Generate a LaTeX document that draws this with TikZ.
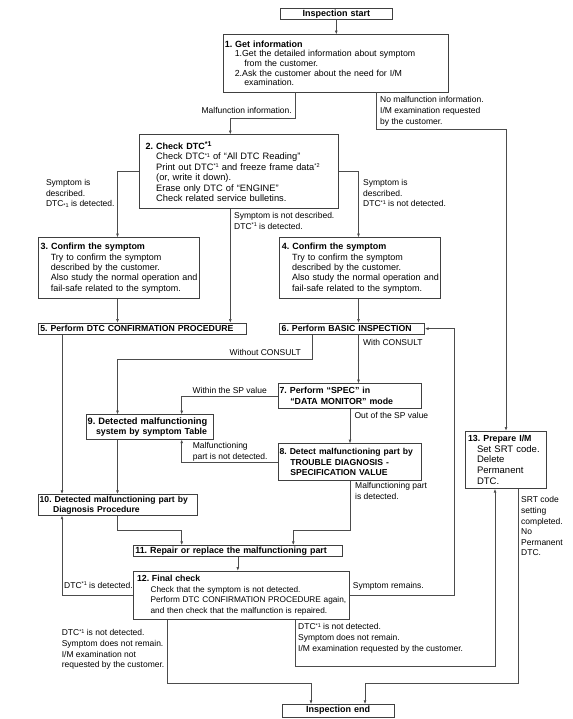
\documentclass[tikz,border=0pt]{standalone}
\usepackage{fontspec}
\setmainfont{Liberation Sans}
\usetikzlibrary{arrows.meta}
\frenchspacing

% small marks after DTC
\newcommand{\supmark}[1]{{\fontsize{5.5}{5.5}\selectfont\raisebox{2.7pt}{#1}}}
\newcommand{\submark}[1]{{\fontsize{5.5}{5.5}\selectfont\raisebox{-0.6pt}{#1}}}
\newcommand{\indentby}[1]{\hspace*{#1pt}}
\newcommand{\boxtitle}[2][8.8]{\mbox{\fontsize{#1}{10}\selectfont\bfseries #2}}

\begin{document}
\begin{tikzpicture}
    [x=1pt, y=-1pt,
      every node/.style={font=\fontsize{8.5}{10.6}\selectfont},
      box/.style={draw=black!75, line width=0.6pt, anchor=north west,
        align=left, inner xsep=2pt, inner ysep=0pt,
        font=\fontsize{9}{10.5}\selectfont},
      note/.style={align=left, inner sep=0pt},
      link/.style={draw=black!70, line width=0.6pt,
        -{Latex[length=3.6pt,width=2.8pt]}}]
    \useasboundingbox (0,0) rectangle (572,719);

    % boxes
    \node[box, align=center, text width=108pt, minimum height=11pt] (start) at (280,8)
      {\boxtitle[9]{Inspection start}};
    \node[box, font=\fontsize{8.8}{9.6}\selectfont, inner xsep=1.5pt, text width=222pt,
      minimum height=57.4pt] (b1) at (223,34.3)
      {\boxtitle[9]{1. Get information}\\
       \indentby{10}1.Get the detailed information about symptom\\
       \indentby{19.5}from the customer.\\
       \indentby{10}2.Ask the customer about the need for I/M\\
       \indentby{19.5}examination.};
    \node[box, font=\fontsize{9.3}{10.4}\selectfont, inner xsep=6pt, text width=186.8pt,
      minimum height=74pt] (b2) at (139.3,134.3)
      {\boxtitle[9]{2. Check DTC{\fontsize{7}{7}\selectfont\raisebox{3pt}{*1}}}\\
       \indentby{10.6}Check DTC\supmark{*1} of “All DTC Reading”\\
       \indentby{10.6}Print out DTC\supmark{*1} and freeze frame data\supmark{*2}\\
       \indentby{10.6}(or, write it down).\\
       \indentby{10.6}Erase only DTC of “ENGINE”\\
       \indentby{10.6}Check related service bulletins.};
    \node[box, font=\fontsize{9}{10.4}\selectfont, inner xsep=2.2pt, text width=156.4pt,
      minimum height=61pt] (b3) at (38,237.3)
      {\boxtitle[9]{3. Confirm the symptom}\\
       \indentby{10.3}Try to confirm the symptom\\
       \indentby{10.3}described by the customer.\\
       \indentby{10.3}\mbox{Also study the normal operation and}\\
       \indentby{10.3}fail-safe related to the symptom.};
    \node[box, font=\fontsize{9}{10.4}\selectfont, inner xsep=2.2pt, text width=156.2pt,
      minimum height=61pt] (b4) at (279.4,237.3)
      {\boxtitle[9]{4. Confirm the symptom}\\
       \indentby{10.3}Try to confirm the symptom\\
       \indentby{10.3}described by the customer.\\
       \indentby{10.3}\mbox{Also study the normal operation and}\\
       \indentby{10.3}fail-safe related to the symptom.};
    \node[box, text width=204.4pt, minimum height=11.3pt] (b5) at (38,322.7)
      {\boxtitle[8.7]{5. Perform DTC CONFIRMATION PROCEDURE}};
    \node[box, text width=140.9pt, minimum height=11.3pt] (b6) at (279.4,322.7)
      {\boxtitle[8.7]{6. Perform BASIC INSPECTION}};
    \node[box, inner xsep=1.6pt, text width=140.1pt, minimum height=25pt] (b7) at (277.7,383.3)
      {\boxtitle{7. Perform “SPEC” in}\\
       \indentby{10.7}\boxtitle{“DATA MONITOR” mode}};
    \node[box, inner xsep=1.6pt, text width=140.1pt, minimum height=36.7pt] (b8) at (277.7,443.3)
      {\boxtitle[8.6]{8. Detect malfunctioning part by}\\
       \indentby{10.7}\boxtitle[8.6]{TROUBLE DIAGNOSIS -}\\
       \indentby{10.7}\boxtitle[8.6]{SPECIFICATION VALUE}};
    \node[box, font=\fontsize{9}{10.7}\selectfont, inner xsep=1.6pt, text width=124.4pt,
      minimum height=24.7pt] (b9) at (85.7,414.3)
      {\boxtitle[9.3]{9. Detected malfunctioning}\\
       \indentby{8.4}\boxtitle{system by symptom Table}};
    \node[box, font=\fontsize{9}{10}\selectfont, inner xsep=1.4pt, text width=155.9pt,
      minimum height=21pt] (b10) at (38,494)
      {\boxtitle[8.6]{10. Detected malfunctioning part by}\\
       \indentby{13.4}\boxtitle[8.6]{Diagnosis Procedure}};
    \node[box, inner xsep=1.7pt, text width=205pt, minimum height=11pt] (b11) at (133.3,545)
      {\boxtitle[8.9]{11. Repair or replace the malfunctioning part}};
    \node[box, font=\fontsize{8.25}{10.5}\selectfont, inner xsep=3.4pt, text width=209.2pt,
      minimum height=48.3pt] (b12) at (133.3,570.7)
      {\boxtitle{12. Final check}\\
       \indentby{13.6}Check that the symptom is not detected.\\
       \indentby{13.6}\mbox{Perform DTC CONFIRMATION PROCEDURE again,}\\
       \indentby{13.6}and then check that the malfunction is repaired.};
    \node[box, font=\fontsize{9.5}{10.6}\selectfont, inner xsep=2.7pt, text width=75.3pt,
      minimum height=57.6pt] (b13) at (465,430.7)
      {\boxtitle{13. Prepare I/M}\\
       \indentby{9}Set SRT code.\\
       \indentby{9}Delete\\
       \indentby{9}Permanent\\
       \indentby{9}DTC.};
    \node[box, align=center, text width=108.6pt, minimum height=12.7pt] (end) at (281.6,704)
      {\boxtitle[9]{Inspection end}};

    % where the lines run
    \coordinate (xa) at (117.5,0);
    \coordinate (xb) at (62,0);
    \coordinate (xc) at (181.7,0);
    \coordinate (xd) at (230.3,0);
    \coordinate (xe) at (358.5,0);
    \coordinate (xf) at (350,0);
    \coordinate (xg) at (454,0);
    \coordinate (xi) at (495,0);
    \coordinate (xk) at (293.3,0);
    \coordinate (xl) at (311,0);
    \coordinate (xm) at (365,0);
    \coordinate (k1) at (295,118.5);
    \coordinate (k3) at (376,129);
    \coordinate (k4) at (506,129);
    \coordinate (k6) at (312.4,359.3);
    \coordinate (k7) at (350,530);
    \coordinate (k8) at (117.5,530);
    \coordinate (k9) at (166.8,683.3);
    \coordinate (k10) at (295,666.7);
    \coordinate (k11) at (518,683.3);

    % connectors
    \draw[link] (start.south) -- (start.south |- b1.north);
    \draw[link] (b1.south -| k1) -- (k1) -| (xd |- b2.north);
    \draw[link] (b1.south -| k3) -- (k3) -- (k4) -- (k4 |- b13.north);
    \draw[link] (b2.west) -| (xa |- b3.north);
    \draw[link] (b2.east) -| (xe |- b4.north);
    \draw[link] (b2.south -| xd) -- (xd |- b5.north);
    \draw[link] (b3.south -| xa) -- (xa |- b5.north);
    \draw[link] (b4.south -| xe) -- (xe |- b6.north);
    \draw[link] (b5.south -| xb) -- (xb |- b10.north);
    \draw[link] (b6.south -| k6) -- (k6) -| (xa |- b9.north);
    \draw[link] (b6.south -| xe) -- (xe |- b7.north);
    \draw[link] (b7.west) -| (xc |- b9.north);
    \draw[link] (b7.south -| xf) -- (xf |- b8.north);
    \draw[link] (b8.west) -| (xc |- b9.south);
    \draw[link] (b9.south -| xa) -- (xa |- b10.north);
    \draw[link] (b8.south -| xf) -- (k7) -| (xk |- b11.north);
    \draw[link] (b10.south -| xa) -- (k8) -| (xc |- b11.north);
    \draw[link] (b11.south) -- (b11.south |- b12.north);
    \draw[link] (b12.west) -| (xb |- b10.south);
    \draw[link] (b12.east) -| (xg |- b6.east) -- (b6.east);
    \draw[link] (b12.south -| k9) -- (k9) -| (xl |- end.north);
    \draw[link] (b12.south -| k10) -- (k10) -| (xi |- b13.south);
    \draw[link] (b13.south -| k11) -- (k11) -| (xm |- end.north);

    % branch texts
    \node[note, anchor=east] (lmal) at (292,110) {Malfunction information.};
    \node[note, anchor=north west] (lnomal) at (380,96.5)
      {No malfunction information.\\I/M examination requested\\by the customer.};
    \node[note, anchor=north west] (lsym1) at (45.8,179.2)
      {Symptom is\\described.\\DTC\submark{*1} is detected.};
    \node[note, anchor=north west] (lsym2) at (363,179.2)
      {Symptom is\\described.\\DTC\supmark{*1} is not detected.};
    \node[note, anchor=north west] (lsym3) at (234,212.5)
      {Symptom is not described.\\DTC\supmark{*1} is detected.};
    \node[note, anchor=east] (lwo) at (301,352.7) {Without CONSULT};
    \node[note, anchor=west] (lwith) at (363,342) {With CONSULT};
    \node[note, anchor=east] (lwithin) at (267,390.7) {Within the SP value};
    \node[note, anchor=west] (lout) at (354.3,415.3) {Out of the SP value};
    \node[note, anchor=north west] (lnotdet) at (192.7,442.5)
      {Malfunctioning\\part is not detected.};
    \node[note, anchor=north west] (ldet) at (355,482.5)
      {Malfunctioning part\\is detected.};
    \node[note, anchor=north west] (lsrt) at (521,496.5)
      {SRT code\\setting\\completed.\\No\\Permanent\\DTC.};
    \node[note, anchor=west] (ldtcdet) at (64,585) {DTC\supmark{*1} is detected.};
    \node[note, anchor=west] (lremain) at (352.7,586.7) {Symptom remains.};
    \node[note, anchor=north west] (lend1) at (61.6,629.2)
      {DTC\supmark{*1} is not detected.\\Symptom does not remain.\\I/M examination not\\requested by the customer.};
    \node[note, anchor=north west] (lend2) at (298,623.2)
      {DTC\supmark{*1} is not detected.\\Symptom does not remain.\\I/M examination requested by the customer.};
\end{tikzpicture}
\end{document}
